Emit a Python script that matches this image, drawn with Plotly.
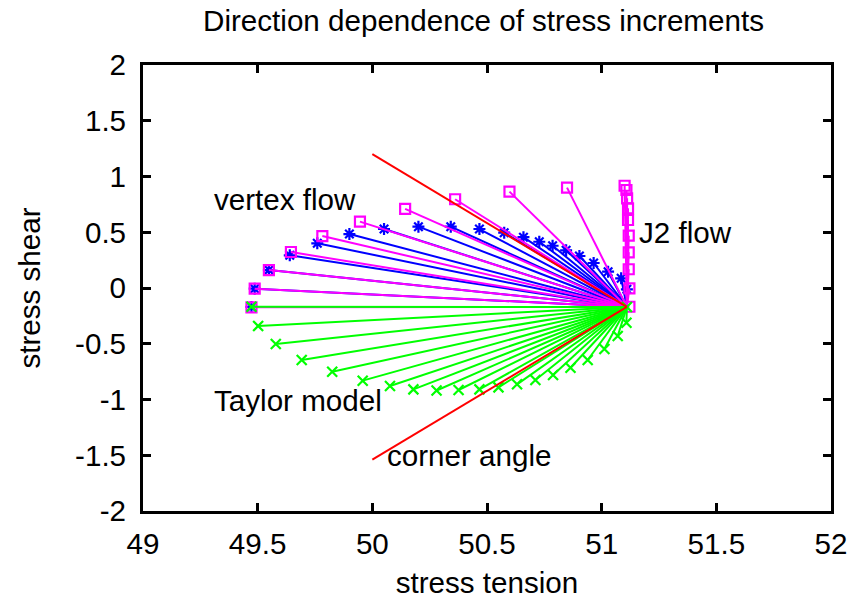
import plotly.graph_objects as go

# Common starting stress state (tension, shear) from which every increment is drawn
hub_x = 51.11
hub_y = -0.17

# Vertex flow end points
vertex_x = [49.473, 49.487, 49.549, 49.640, 49.760, 49.900, 50.051, 50.201, 50.342,
            50.467, 50.575, 50.659, 50.728, 50.786, 50.845, 50.903, 50.965, 51.028,
            51.085, 51.11]
vertex_y = [-0.170, -0.006, 0.161, 0.293, 0.401, 0.484, 0.529, 0.550, 0.550,
            0.529, 0.496, 0.456, 0.415, 0.379, 0.338, 0.287, 0.224, 0.146,
            0.087, -0.012]

# J2 flow end points
j2_x = [49.473, 49.487, 49.549, 49.645, 49.782, 49.946, 50.143, 50.361, 50.598,
        50.849, 51.100, 51.108, 51.111, 51.115, 51.115, 51.118, 51.118, 51.118,
        51.121, 51.121]
j2_y = [-0.173, -0.006, 0.161, 0.323, 0.466, 0.595, 0.709, 0.796, 0.864,
        0.900, 0.917, 0.879, 0.804, 0.715, 0.610, 0.469, 0.320, 0.168,
        -0.003, -0.168]

# Taylor model end points
taylor_x = [49.473, 49.502, 49.579, 49.692, 49.825, 49.958, 50.077, 50.179, 50.280,
            50.376, 50.467, 50.550, 50.631, 50.711, 50.788, 50.864, 50.939, 51.012,
            51.070, 51.108, 51.11]
taylor_y = [-0.168, -0.341, -0.502, -0.646, -0.751, -0.831, -0.879, -0.909, -0.919,
            -0.915, -0.909, -0.891, -0.864, -0.825, -0.780, -0.715, -0.646, -0.547,
            -0.430, -0.311, -0.17]

# Corner angle bounds
corner_x = [50.0, 50.0]
corner_y = [1.2, -1.54]

x_ticks = [49, 49.5, 50, 50.5, 51, 51.5, 52]
y_ticks = [-2, -1.5, -1, -0.5, 0, 0.5, 1, 1.5, 2]

FONT = "Liberation Sans, Arial, Helvetica, sans-serif"
FS = 29.6


def fan(xs, ys):
    """Segments from the hub to every end point, separated by gaps."""
    lx, ly = [], []
    for x, y in zip(xs, ys):
        lx += [hub_x, x, None]
        ly += [hub_y, y, None]
    return lx, ly


fig = go.Figure()

series = [
    (vertex_x, vertex_y, "#0000ff", "asterisk-open", 10),
    (j2_x, j2_y, "#ff00ff", "square-open", 10),
    (taylor_x, taylor_y, "#00ff00", "x-thin-open", 10),
]
for xs, ys, color, symbol, size in series:
    lx, ly = fan(xs, ys)
    fig.add_trace(go.Scatter(x=lx, y=ly, mode="lines",
                             line=dict(color=color, width=2),
                             hoverinfo="skip", showlegend=False))
    fig.add_trace(go.Scatter(x=xs, y=ys, mode="markers",
                             marker=dict(symbol=symbol, size=size, color=color,
                                         line=dict(color=color, width=2.2)),
                             showlegend=False))

cx, cy = fan(corner_x, corner_y)
fig.add_trace(go.Scatter(x=cx, y=cy, mode="lines",
                         line=dict(color="#ff0000", width=2),
                         hoverinfo="skip", showlegend=False))

labels = [
    ("vertex flow", 49.30, 0.79),
    ("J2 flow", 51.155, 0.50),
    ("Taylor model", 49.30, -1.005),
    ("corner angle", 50.055, -1.505),
]
for text, x, y in labels:
    fig.add_annotation(x=x, y=y, text=text, showarrow=False,
                       xanchor="left", yanchor="middle",
                       font=dict(family=FONT, size=FS, color="black"))

axis_common = dict(
    showgrid=False, zeroline=False, showline=True, linecolor="black",
    linewidth=3, mirror="ticks", ticks="inside", ticklen=8, tickwidth=3,
    tickcolor="black", tickfont=dict(family=FONT, size=FS, color="black"),
    automargin=False,
)

fig.update_layout(
    width=856, height=602,
    margin=dict(l=143, r=25, t=65, b=91),
    paper_bgcolor="white", plot_bgcolor="white",
    title=dict(text="Direction dependence of stress increments",
               x=483.5 / 856, xref="container", xanchor="center",
               y=1 - 21 / 602, yref="container", yanchor="middle",
               font=dict(family=FONT, size=FS, color="black")),
    xaxis=dict(range=[49, 52], tickvals=x_ticks,
               ticktext=[f"{v:g}" for v in x_ticks],
               ticklabelstandoff=4,
               title=dict(text="stress tension", standoff=14,
                          font=dict(family=FONT, size=FS, color="black")),
               **axis_common),
    yaxis=dict(range=[-2, 2], tickvals=y_ticks,
               ticktext=[f"{v:g}" for v in y_ticks],
               ticklabelstandoff=8,
               title=dict(text="stress shear", standoff=26,
                          font=dict(family=FONT, size=FS, color="black")),
               **axis_common),
)

fig.write_html("out.html")
